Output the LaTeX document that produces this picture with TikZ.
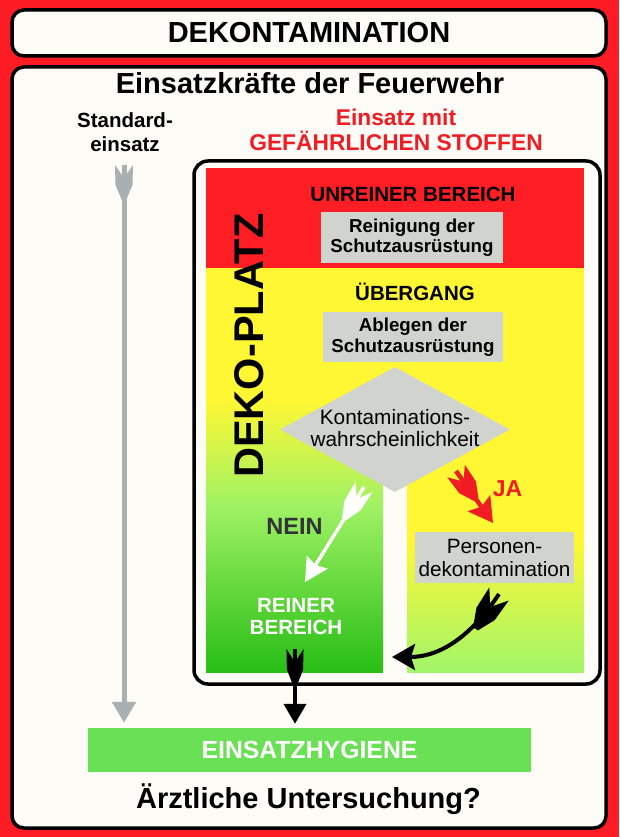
\documentclass[tikz,border=0pt]{standalone}
\usepackage{fontspec}
\setmainfont{Liberation Sans}
\usetikzlibrary{arrows.meta,shapes.geometric}
\definecolor{bgred}{RGB}{255,28,36}
\definecolor{paper}{RGB}{253,252,246}
\definecolor{zonered}{RGB}{255,30,36}
\definecolor{zoneyel}{RGB}{255,247,52}
\definecolor{boxgrey}{RGB}{209,211,207}
\definecolor{arrgrey}{RGB}{168,176,177}
\definecolor{bargreen}{RGB}{106,225,84}
\definecolor{ltgreen}{RGB}{160,242,100}
\definecolor{dkgreen}{RGB}{40,190,22}
\definecolor{rtgreen}{RGB}{162,245,106}
\definecolor{neingrey}{RGB}{50,50,56}
\definecolor{textred}{RGB}{240,28,36}
\begin{document}
\begin{tikzpicture}[x=1pt,y=-1pt,
  frame/.style={draw=black, line width=3.5pt, fill=paper, rounded corners=12pt, inner sep=0pt},
  greybox/.style={fill=boxgrey, inner sep=0pt, align=center},
  lbl/.style={anchor=base, inner sep=0pt},
  fletch/.pic={\fill (-9,0) -- (0,13) -- (9,0) -- (8.5,20) -- (2.2,35) -- (-2.2,35) -- (-8.5,20) -- cycle;},
]
\useasboundingbox (0,0) rectangle (619,837);
\fill[bgred] (0,0) rectangle (619,837);

% title box
\node[frame, minimum width=594pt, minimum height=46pt,
      font=\bfseries\fontsize{29}{32}\selectfont] (title) at (309,33) {DEKONTAMINATION};

% main box
\node[frame, minimum width=594pt, minimum height=761pt] (mainbox) at (309,447.5) {};

\node[lbl, font=\bfseries\fontsize{29}{32}\selectfont] (kraefte) at (310,94) {Einsatzkräfte der Feuerwehr};
\node[align=center, inner sep=0pt, font=\bfseries\fontsize{20.5}{24}\selectfont] (std) at (125,132.5) {Standard-\\einsatz};
\node[align=center, inner sep=0pt, text=textred, font=\bfseries\fontsize{22.8}{25}\selectfont] (gef) at (396,130) {Einsatz mit\\GEFÄHRLICHEN STOFFEN};

% DEKO-PLATZ box
\node[frame, rounded corners=14pt, minimum width=406pt, minimum height=523pt] (dekobox) at (397,422.5) {};

% zones
\fill[zonered] (206,168) rectangle (584,268.5);
\fill[zoneyel] (206,268) rectangle (584,485);
\shade[top color=zoneyel, bottom color=ltgreen] (206,400) rectangle (383,505);
\shade[top color=ltgreen, bottom color=dkgreen] (206,504.5) rectangle (383,672);
\fill[zoneyel] (407,484) rectangle (584,540);
\shade[top color=zoneyel, bottom color=rtgreen] (407,539.5) rectangle (584,672);

\node[lbl, font=\bfseries\fontsize{20.5}{24}\selectfont] (unrein) at (413,201) {UNREINER BEREICH};
\node[greybox, minimum width=182pt, minimum height=51pt, font=\bfseries\fontsize{18.7}{20.5}\selectfont] (rein) at (412,237.5) {Reinigung der\\Schutzausrüstung};
\node[lbl, font=\bfseries\fontsize{20.5}{24}\selectfont] (ueber) at (415,300) {ÜBERGANG};
\node[greybox, minimum width=180pt, minimum height=50pt, font=\bfseries\fontsize{18.7}{20.5}\selectfont] (ableg) at (413,337) {Ablegen der\\Schutzausrüstung};

\node[rotate=90, lbl, font=\bfseries\fontsize{41.5}{44}\selectfont] (deko) at (263,345.5) {DEKO-PLATZ};

% decision
\node[diamond, fill=boxgrey, minimum width=230pt, minimum height=125pt, inner sep=0pt] (dia) at (395,429.5) {};
\node[align=center, inner sep=0pt, font=\fontsize{20.8}{22}\selectfont] (diatext) at (395,428) {Kontaminations-\\wahrscheinlichkeit};

\node[greybox, minimum width=159pt, minimum height=51pt, font=\fontsize{20.7}{23}\selectfont] (pers) at (494.5,557.5) {Personen-\\dekontamination};

\node[lbl, text=neingrey, font=\bfseries\fontsize{23.5}{26}\selectfont] (nein) at (294.5,534) {NEIN};
\node[lbl, text=textred, font=\bfseries\fontsize{23}{26}\selectfont] (ja) at (507.5,496) {JA};
\node[align=center, inner sep=0pt, text=white, font=\bfseries\fontsize{20.6}{22}\selectfont] (reiner) at (296,617) {REINER\\BEREICH};

% bottom
\node[fill=bargreen, inner sep=0pt, minimum width=443pt, minimum height=44pt, text=white,
      font=\bfseries\fontsize{24.8}{28}\selectfont] (bar) at (309.5,750) {EINSATZHYGIENE};
\node[lbl, font=\bfseries\fontsize{29}{30}\selectfont] (arzt) at (308.5,808) {Ärztliche Untersuchung?};

% arrows
\coordinate (gS) at (124,165);
\coordinate (bS) at (295,649);
\coordinate (nS) at (364,487);
\coordinate (nE) at (305,582);
\coordinate (jS) at (456,471);
\coordinate (jE) at (493,523);
\coordinate (cS) at (499,594);
\coordinate (cE) at (392,657);

\draw[line width=5pt, arrgrey, shorten >=5pt, -{Triangle[length=21pt,width=23pt]}]
  (gS) -- (gS |- bar.north);
\pic[arrgrey] at (gS) {fletch};

\draw[line width=4pt, black, shorten >=4pt, -{Triangle[length=20pt,width=22pt]}]
  (bS) -- (bS |- bar.north);
\pic[black, xscale=0.95, yscale=1.03] at (bS) {fletch};

\draw[line width=3.5pt, white, -{Stealth[length=23pt,width=24pt,inset=3pt]}]
  (nS) -- (nE);
\pic[white, rotate=-32, xscale=1.1, yscale=1.08] at (nS) {fletch};

\draw[line width=4.5pt, textred, -{Stealth[length=24pt,width=27pt,inset=4pt]}]
  (jS) -- (jE);
\pic[textred, rotate=35.4, xscale=1.2, yscale=1.0] at (jS) {fletch};

\draw[line width=4pt, black, -{Stealth[length=23pt,width=26pt,inset=4pt]}]
  (cS) .. controls (471,636.5) and (440,657) .. (cE);
\pic[black, rotate=-34, xscale=1.3, yscale=1.2] at (cS) {fletch};
\end{tikzpicture}
\end{document}
